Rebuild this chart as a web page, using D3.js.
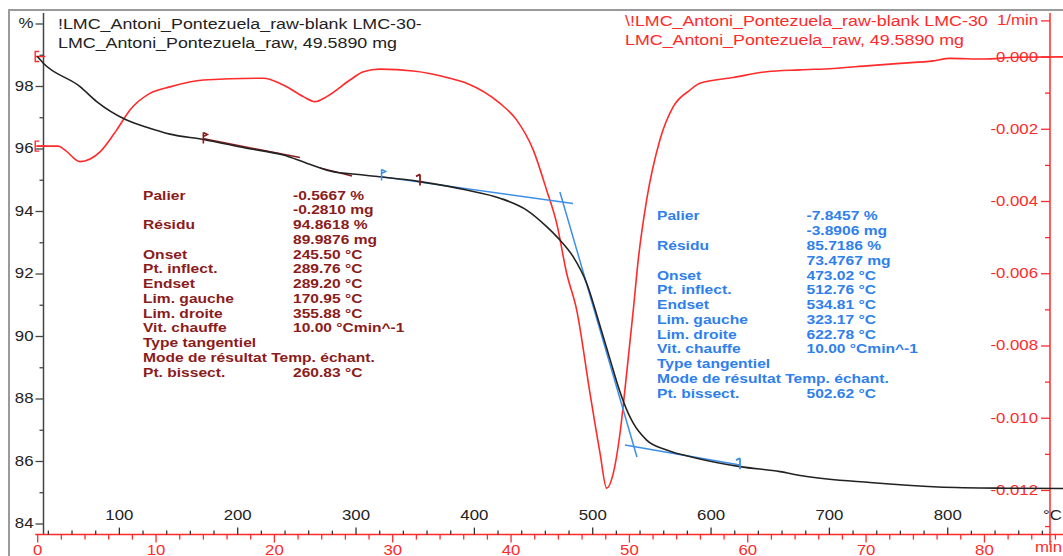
<!DOCTYPE html>
<html>
<head>
<meta charset="utf-8">
<script src="https://cdn.jsdelivr.net/npm/d3@7"></script>
<style>
  body { margin: 0; background: #fff; }
  svg { display: block; font-family: "Liberation Sans", Arial, sans-serif; }
</style>
</head>
<body>
<div id="chart"></div>
<script>
// TGA curve (mass %) vs time (min)
const tgaTime = [0, 0.52, 3.62, 5.03, 7.56, 9.25, 11.22, 14.04, 17.7, 20.8, 22.77, 24.74, 27.56, 32.35,
  36.29, 39.11, 41.36, 43.05, 44.17, 45.3, 46.43, 47.56, 48.4, 49.25, 49.93, 50.37, 51.5, 53.19, 55.73,
  59.39, 62.77, 64.63, 70.37, 76.12, 81.87, 86.69];
const tgaMass = [98.95, 98.73, 97.98, 97.5, 96.91, 96.68, 96.46, 96.29, 96.01, 95.79, 95.53, 95.28, 95.15, 94.94,
  94.67, 94.41, 94.03, 93.5, 93.07, 92.53, 91.69, 90.32, 89.26, 88.21, 87.54, 87.21, 86.67, 86.35, 86.09,
  85.82, 85.66, 85.53, 85.31, 85.17, 85.13, 85.12];

// DTG curve (1/min) vs time (min)
const dtgTime = [0, 1.78, 2.35, 3.62, 5.31, 6.72, 7.84, 9.52, 11.22, 14.04, 19.11, 20.8, 22.49, 23.47, 24.46,
  26.43, 27.56, 28.97, 31.78, 34.88, 36.29, 39.11, 40.52, 41.92, 43.05, 43.9, 44.74, 45.59, 46.71, 47.56,
  48.12, 48.68, 49.25, 49.81, 50.37, 50.79, 51.5, 52.62, 53.75, 55.16, 56.0, 58.82, 61.64, 64.46, 67.27,
  70.09, 72.91, 75.72, 77.13, 79.95, 82.77, 86.69];
const dtgRate = [-0.00248, -0.00248, -0.00259, -0.00291, -0.00264, -0.00203, -0.00148, -0.00102, -0.00084,
  -0.00065, -0.0006, -0.00079, -0.00111, -0.00125, -0.00111, -0.00065, -0.00042, -0.00035, -0.0004, -0.0006,
  -0.00074, -0.0013, -0.00176, -0.00259, -0.0037, -0.00462, -0.006, -0.00702, -0.00932, -0.01098, -0.01195,
  -0.01154, -0.01043, -0.00877, -0.00702, -0.00563, -0.00397, -0.00231, -0.00139, -0.00093, -0.00074,
  -0.00058, -0.00042, -0.00037, -0.00033, -0.00026, -0.00019, -0.00012, -0.00005, -0.00007, -0.00002, -0.00001];

// evaluation tangents (time pairs, mass pairs)
const blueTanTime = [[29.0, 45.28], [44.17, 50.68], [49.67, 59.39]];
const blueTanMass = [[95.1, 94.24], [94.61, 86.13], [86.51, 85.87]];
const brownTanTime = [[14.0, 22.2], [23.9, 26.6]];
const brownTanMass = [[96.32, 95.71], [95.38, 95.12]];

// limit markers
const brownMarkTime = [14.04, 32.35];
const brownMarkMass = [96.32, 94.98];
const blueMarkTime = [29.1, 59.39];
const blueMarkMass = [95.14, 85.9];

// axis ticks
const pctTicks = [84, 86, 88, 90, 92, 94, 96, 98, 100];
const pctMinor = [85, 87, 89, 91, 93, 95, 97, 99];
const dtgTicks = [0.001, 0, -0.002, -0.004, -0.006, -0.008, -0.01, -0.012];
const dtgMinor = [-0.001, -0.003, -0.005, -0.007, -0.009, -0.011, -0.013];
const timeTicks = [0, 10, 20, 30, 40, 50, 60, 70, 80];
const timeMinor = d3.range(2, 87, 2).filter(d => d % 10 !== 0);
const tempTicks = [100, 200, 300, 400, 500, 600, 700, 800];
const tempMinor = d3.range(40, 900, 20).filter(d => d % 100 !== 0);

// result tables
const resLabels = ["Palier", "", "Résidu", "", "Onset", "Pt. inflect.", "Endset", "Lim. gauche",
  "Lim. droite", "Vit. chauffe", "Type tangentiel", "Mode de résultat Temp. échant.", "Pt. bissect."];
const step1Values = ["-0.5667 %", "-0.2810 mg", "94.8618 %", "89.9876 mg", "245.50 °C", "289.76 °C",
  "289.20 °C", "170.95 °C", "355.88 °C", "10.00 °Cmin^-1", "", "", "260.83 °C"];
const step2Values = ["-7.8457 %", "-3.8906 mg", "85.7186 %", "73.4767 mg", "473.02 °C", "512.76 °C",
  "534.81 °C", "323.17 °C", "622.78 °C", "10.00 °Cmin^-1", "", "", "502.62 °C"];

const titleLeft = ["!LMC_Antoni_Pontezuela_raw-blank LMC-30-", "LMC_Antoni_Pontezuela_raw, 49.5890 mg"];
const titleRight = ["\\!LMC_Antoni_Pontezuela_raw-blank LMC-30", "LMC_Antoni_Pontezuela_raw, 49.5890 mg"];

const width = 1063, height = 556;
const SX = 1.2;
const RED = "#ff2a2a", BLACK = "#222", BLUE = "#3d8fe8", BROWN = "#8b1c1c", BLUETXT = "#2f7fec";

const svg = d3.select("#chart").append("svg")
  .attr("width", width).attr("height", height);

const time = d3.scaleLinear().domain([0, 86.7]).range([37.2, 1063.2]);
const temp = d3.scaleLinear().domain([31, 898]).range([37.2, 1063.2]);
const yPct = d3.scaleLinear().domain([84, 100]).range([523.5, 23.5]);
const yDtg = d3.scaleLinear().domain([-0.013, 0.001]).range([526.1, 20.4]);

function addText(g, x, y, s, o) {
  return g.append("text")
    .attr("transform", `translate(${x},${y}) scale(${o.sx || SX},1)`)
    .attr("text-anchor", o.anchor || "start")
    .attr("font-size", o.size)
    .attr("font-weight", o.weight || "normal")
    .attr("fill", o.color)
    .text(s);
}

// frame
svg.append("path").attr("d", "M9,556V10H1063").attr("fill", "none")
  .attr("stroke", "#9a9a9a").attr("stroke-width", 2);

// left % axis
const leftX = 43.5;
svg.append("line").attr("x1", leftX).attr("x2", leftX).attr("y1", 13).attr("y2", 535)
  .attr("stroke", "#444").attr("stroke-width", 1.5);
const gl = svg.append("g").attr("transform", `translate(${leftX},0)`)
  .call(d3.axisLeft(yPct).tickValues(pctTicks).tickSize(8).tickSizeOuter(0)
    .tickFormat(d => d === 100 ? "%" : d));
gl.call(g => g.select(".domain").remove());
gl.selectAll("line").attr("stroke", "#444").attr("stroke-width", 1.3);
gl.selectAll("text").attr("font-size", 14).attr("font-family", null).attr("fill", "#222")
  .attr("x", -10 / SX).attr("transform", `scale(${SX},1)`);
svg.append("g").attr("transform", `translate(${leftX},0)`)
  .call(d3.axisLeft(yPct).tickValues(pctMinor).tickSize(4).tickSizeOuter(0).tickFormat(""))
  .call(g => g.select(".domain").remove())
  .selectAll("line").attr("stroke", "#444").attr("stroke-width", 1.3);

// right DTG axis
const rightX = 1050;
svg.append("line").attr("x1", rightX).attr("x2", rightX).attr("y1", 13).attr("y2", 545)
  .attr("stroke", RED).attr("stroke-width", 1.5);
const gr = svg.append("g").attr("transform", `translate(${rightX},0)`)
  .call(d3.axisLeft(yDtg).tickValues(dtgTicks).tickSize(9).tickSizeOuter(0)
    .tickFormat(d => d === 0.001 ? "1/min" : d.toFixed(3)));
gr.call(g => g.select(".domain").remove());
gr.selectAll("line").attr("stroke", RED).attr("stroke-width", 1.3);
gr.selectAll("text").attr("font-size", 14).attr("font-family", null).attr("fill", RED)
  .attr("x", -12 / SX).attr("transform", `scale(${SX},1)`);
svg.append("g").attr("transform", `translate(${rightX},0)`)
  .call(d3.axisLeft(yDtg).tickValues(dtgMinor).tickSize(5).tickSizeOuter(0).tickFormat(""))
  .call(g => g.select(".domain").remove())
  .selectAll("line").attr("stroke", RED).attr("stroke-width", 1.3);

// bottom time axis (red) and temperature axis (black)
const baseY = 534.6;
svg.append("line").attr("x1", time(0) - 2).attr("x2", width).attr("y1", baseY).attr("y2", baseY)
  .attr("stroke", RED).attr("stroke-width", 1.5);
const gt = svg.append("g").attr("transform", `translate(0,${baseY})`)
  .call(d3.axisBottom(time).tickValues(timeTicks).tickSize(8).tickPadding(2).tickSizeOuter(0));
gt.call(g => g.select(".domain").remove());
gt.selectAll("line").attr("stroke", RED).attr("stroke-width", 1.3);
gt.selectAll("text").attr("font-size", 14).attr("font-family", null).attr("fill", RED)
  .attr("transform", `scale(${SX},1)`);
svg.append("g").attr("transform", `translate(0,${baseY})`)
  .call(d3.axisBottom(time).tickValues(timeMinor).tickSize(5).tickSizeOuter(0).tickFormat(""))
  .call(g => g.select(".domain").remove())
  .selectAll("line").attr("stroke", RED).attr("stroke-width", 1.3);
addText(svg, 1035, 551.5, "min", { size: 14, color: RED });

const gT = svg.append("g").attr("transform", `translate(0,${baseY})`)
  .call(d3.axisTop(temp).tickValues(tempTicks).tickSize(7).tickPadding(8).tickSizeOuter(0));
gT.call(g => g.select(".domain").remove());
gT.selectAll("line").attr("stroke", "#333").attr("stroke-width", 1.3);
gT.selectAll("text").attr("font-size", 14).attr("font-family", null).attr("fill", "#222")
  .attr("transform", `scale(${SX},1)`);
svg.append("g").attr("transform", `translate(0,${baseY})`)
  .call(d3.axisTop(temp).tickValues(tempMinor).tickSize(4).tickSizeOuter(0).tickFormat(""))
  .call(g => g.select(".domain").remove())
  .selectAll("line").attr("stroke", "#333").attr("stroke-width", 1.3);
addText(svg, 1043, 520, "°C", { size: 14, color: "#222" });

// titles
titleLeft.forEach((s, i) => addText(svg, 58, 28.5 + i * 19.5, s, { size: 15, color: "#222", sx: 1.19 }));
titleRight.forEach((s, i) => addText(svg, 625, 26 + i * 18.6, s, { size: 15, color: RED, sx: 1.19 }));

// DTG curve
const dtgData = dtgTime.map((t, i) => [t, dtgRate[i]]);
svg.append("path").datum(dtgData)
  .attr("d", d3.line().x(d => time(d[0])).y(d => yDtg(d[1])).curve(d3.curveMonotoneX))
  .attr("fill", "none").attr("stroke", RED).attr("stroke-width", 1.6);

// red start markers on left edge
[0, dtgRate[0]].forEach(v => {
  const x = time(0), y = yDtg(v);
  svg.append("path").attr("d", `M${x + 2},${y - 5}h-4v10h4M${x - 2},${y}h10`)
    .attr("fill", "none").attr("stroke", RED).attr("stroke-width", 1.4);
});

// tangents
blueTanTime.forEach((tt, i) => {
  svg.append("line")
    .attr("x1", time(tt[0])).attr("y1", yPct(blueTanMass[i][0]))
    .attr("x2", time(tt[1])).attr("y2", yPct(blueTanMass[i][1]))
    .attr("stroke", BLUE).attr("stroke-width", 1.5);
});
brownTanTime.forEach((tt, i) => {
  svg.append("line")
    .attr("x1", time(tt[0])).attr("y1", yPct(brownTanMass[i][0]))
    .attr("x2", time(tt[1])).attr("y2", yPct(brownTanMass[i][1]))
    .attr("stroke", BROWN).attr("stroke-width", 1.5);
});

// TGA curve
const tgaData = tgaTime.map((t, i) => [t, tgaMass[i]]);
svg.append("path").datum(tgaData)
  .attr("d", d3.line().x(d => time(d[0])).y(d => yPct(d[1])).curve(d3.curveMonotoneX))
  .attr("fill", "none").attr("stroke", BLACK).attr("stroke-width", 1.6);

// limit markers
function markLeft(x, y, color) {
  svg.append("path").attr("d", `M${x},${y - 6}v11M${x},${y - 6}l4,2l-4,2`)
    .attr("fill", "none").attr("stroke", color).attr("stroke-width", 1.6);
}
function markRight(x, y, color) {
  svg.append("path").attr("d", `M${x},${y - 6}v11M${x},${y - 6}l-4,2`)
    .attr("fill", "none").attr("stroke", color).attr("stroke-width", 1.8);
}
markLeft(time(brownMarkTime[0]), yPct(brownMarkMass[0]), BROWN);
markRight(time(brownMarkTime[1]), yPct(brownMarkMass[1]), BROWN);
markLeft(time(blueMarkTime[0]), yPct(blueMarkMass[0]), BLUE);
markRight(time(blueMarkTime[1]), yPct(blueMarkMass[1]), BLUE);

// result tables
const t1 = svg.append("g");
resLabels.forEach((s, i) => {
  const y = 195 + i * 14.75 + 4.7;
  if (s) addText(t1, 143, y, s, { size: 13, weight: "bold", color: BROWN });
  if (step1Values[i]) addText(t1, 293, y, step1Values[i], { size: 13, weight: "bold", color: BROWN });
});
const t2 = svg.append("g");
resLabels.forEach((s, i) => {
  const y = 215.7 + i * 14.78 + 4.7;
  if (s) addText(t2, 657, y, s, { size: 13, weight: "bold", color: BLUETXT });
  if (step2Values[i]) addText(t2, 806.5, y, step2Values[i], { size: 13, weight: "bold", color: BLUETXT });
});
</script>
</body>
</html>
